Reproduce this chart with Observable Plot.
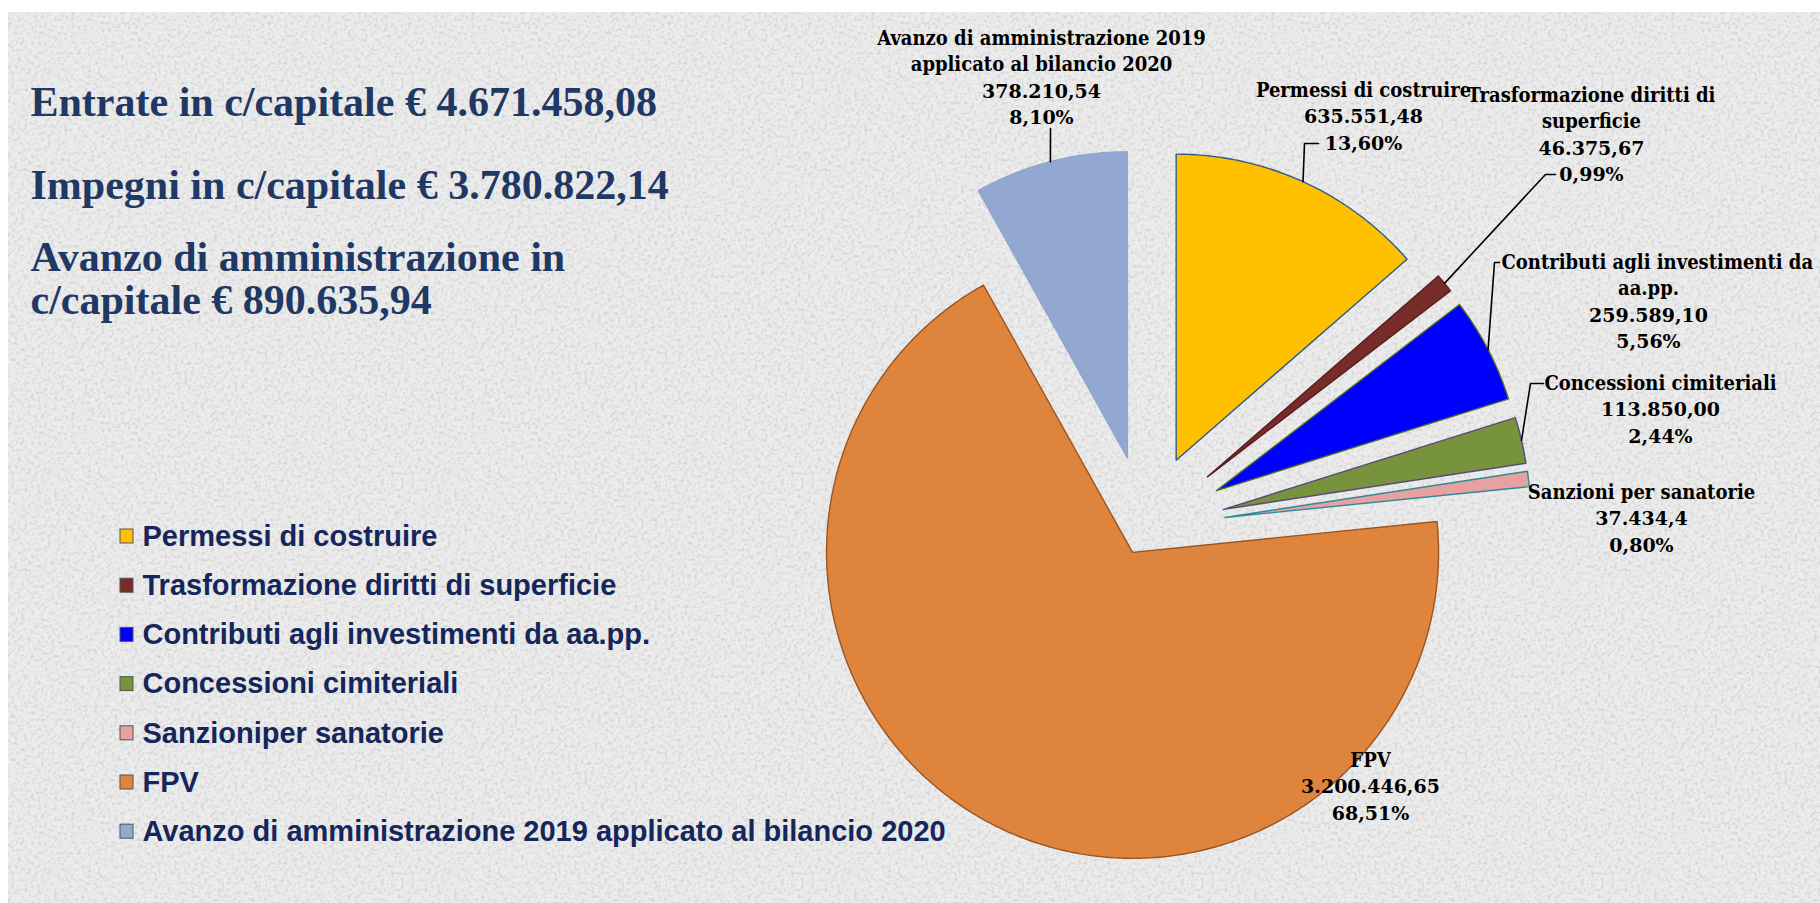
<!DOCTYPE html>
<html><head><meta charset="utf-8">
<script src="https://cdn.jsdelivr.net/npm/d3@7"></script>
<script src="https://cdn.jsdelivr.net/npm/@observablehq/plot@0.6"></script>
<style>
html,body{margin:0;padding:0;background:#fff;overflow:hidden;width:1820px;height:903px}
#bg{position:absolute;left:8px;top:12px;width:1812px;height:891px;background-color:#ececec;
background-image:url("data:image/svg+xml;utf8,<svg xmlns='http://www.w3.org/2000/svg' width='400' height='400'><filter id='n'><feTurbulence type='fractalNoise' baseFrequency='0.3' numOctaves='4' stitchTiles='stitch'/><feColorMatrix type='matrix' values='0 0 0 0 0.62 0 0 0 0 0.62 0 0 0 0 0.62 2.2 0 0 0 -1.0'/></filter><rect width='400' height='400' filter='url(%23n)'/></svg>");}
#chart{position:absolute;left:0;top:0}
</style></head><body><div id="bg"></div><div id="chart"></div>
<script>
// ---- data ----
const categories = ["Permessi di costruire","Trasformazione diritti di superficie","Contributi agli investimenti da aa.pp.","Concessioni cimiteriali","Sanzioniper sanatorie","FPV","Avanzo di amministrazione 2019 applicato al bilancio 2020"];
const labelNames = [["Permessi di costruire"],["Trasformazione diritti di","superficie"],["Contributi agli investimenti da","aa.pp."],["Concessioni cimiteriali"],["Sanzioni per sanatorie"],["FPV"],["Avanzo di amministrazione 2019","applicato al bilancio 2020"]];
const values = [635551.48, 46375.67, 259589.10, 113850.00, 37434.4, 3200446.65, 378210.54];
const valueLabels = ["635.551,48","46.375,67","259.589,10","113.850,00","37.434,4","3.200.446,65","378.210,54"];
const percentLabels = ["13,60%","0,99%","5,56%","2,44%","0,80%","68,51%","8,10%"];
const headings = ["Entrate in c/capitale € 4.671.458,08","Impegni in c/capitale € 3.780.822,14","Avanzo di amministrazione in","c/capitale € 890.635,94"];

// ---- layout / style ----
const W = 1820, H = 903;
const CX = 1145, CY = 527, R = 306;
const explode = [74, 80, 80, 80, 80, 28, 72];
const fills = ["#FFC000","#772C2A","#0000FF","#77933C","#E6A1A0","#DE843C","#93A8D0"];
const strokes = ["#2E5C8A","#5A1F1E","#4F6B25","#5B4A78","#2E8A99","#9A5522","#8FA5CE"];
const labelX = [1363, 1591, 1648, 1660, 1641, 1370, 1041];
const firstLineStart = [null, null, 1501, null, null, null, null];
const labelTop = [90, 95, 262, 383, 492, 760, 38];
const lineStep = 26.5;
const elbows = [[[1304,143],[1318,143]], [[1545,174],[1555,174]], [[1494,262],[1499,262]], [[1530,383],[1543,383]], null, null, [[1050,128]]];
const headingY = [102, 185, 257, 300];
const legendY0 = 536, legendStep = 49.2;

// ---- geometry ----
const pie = d3.pie().sort(null).value(d => d).startAngle(0).endAngle(2*Math.PI)(values);
const slices = pie.map((p, i) => {
  const mid = (p.startAngle + p.endAngle) / 2;
  const ax = CX + explode[i] * Math.sin(mid), ay = CY - explode[i] * Math.cos(mid);
  const n = Math.max(2, Math.ceil((p.endAngle - p.startAngle) / 0.01));
  const pts = [{name: categories[i], x: ax, y: ay}];
  for (let k = 0; k <= n; k++) {
    const a = p.startAngle + (p.endAngle - p.startAngle) * k / n;
    pts.push({name: categories[i], x: ax + R * Math.sin(a), y: ay - R * Math.cos(a)});
  }
  return {i, mid, ax, ay, pts, ox: ax + R * Math.sin(mid), oy: ay - R * Math.cos(mid)};
});

const leaderPts = [];
slices.forEach(s => {
  if (!elbows[s.i]) return;
  leaderPts.push({name: categories[s.i], x: s.ox, y: s.oy});
  elbows[s.i].forEach(([x, y]) => leaderPts.push({name: categories[s.i], x, y}));
});

const labelRows = [];
categories.forEach((c, i) => {
  const lines = [...labelNames[i].map(t => ({t, kind: "name"})), {t: valueLabels[i], kind: "num"}, {t: percentLabels[i], kind: "num"}];
  lines.forEach((l, j) => {
    const start = j === 0 && firstLineStart[i] != null;
    labelRows.push({x: start ? firstLineStart[i] : labelX[i], y: labelTop[i] + j * lineStep, text: l.t, kind: l.kind, anchor: start ? "start" : "middle"});
  });
});

const marks = [];
slices.forEach(s => marks.push(Plot.line(s.pts, {x: "x", y: "y", fill: "name", stroke: strokes[s.i], strokeWidth: 1.4, curve: "linear-closed"})));
marks.push(Plot.line(leaderPts, {x: "x", y: "y", z: "name", stroke: "#000", strokeWidth: 1.6}));
const nameFont = {x: "x", y: "y", text: "text", fontFamily: "DejaVu Serif Condensed", fontWeight: "bold", fontSize: 20, fill: "#000"};
marks.push(Plot.text(labelRows.filter(d => d.kind === "name" && d.anchor === "middle"), nameFont));
marks.push(Plot.text(labelRows.filter(d => d.kind === "name" && d.anchor === "start"), {...nameFont, textAnchor: "start"}));
marks.push(Plot.text(labelRows.filter(d => d.kind === "num"), {x: "x", y: "y", text: "text", fontFamily: "DejaVu Serif", fontWeight: "bold", fontSize: 19, fill: "#000"}));
marks.push(Plot.rect(categories, {x1: 120, x2: 133, y1: (d, i) => legendY0 + i * legendStep - 7, y2: (d, i) => legendY0 + i * legendStep + 7, fill: d => d, stroke: "#555", strokeWidth: 1}));
marks.push(Plot.text(categories, {x: 142, y: (d, i) => legendY0 + i * legendStep, text: d => d, textAnchor: "start", fontFamily: "Liberation Sans", fontWeight: "bold", fontSize: 29, fill: "#14265a"}));
marks.push(Plot.text(headings, {x: 30, y: (d, i) => headingY[i], text: d => d, textAnchor: "start", fontFamily: "Liberation Serif", fontWeight: "bold", fontSize: 42, fill: "#1F3864"}));

const chart = Plot.plot({
  width: W, height: H, margin: 0,
  x: {domain: [0, W], range: [0, W], axis: null},
  y: {domain: [0, H], range: [0, H], axis: null},
  color: {domain: categories, range: fills},
  style: {background: "transparent"},
  marks
});
document.getElementById("chart").appendChild(chart);
</script>
</body></html>
